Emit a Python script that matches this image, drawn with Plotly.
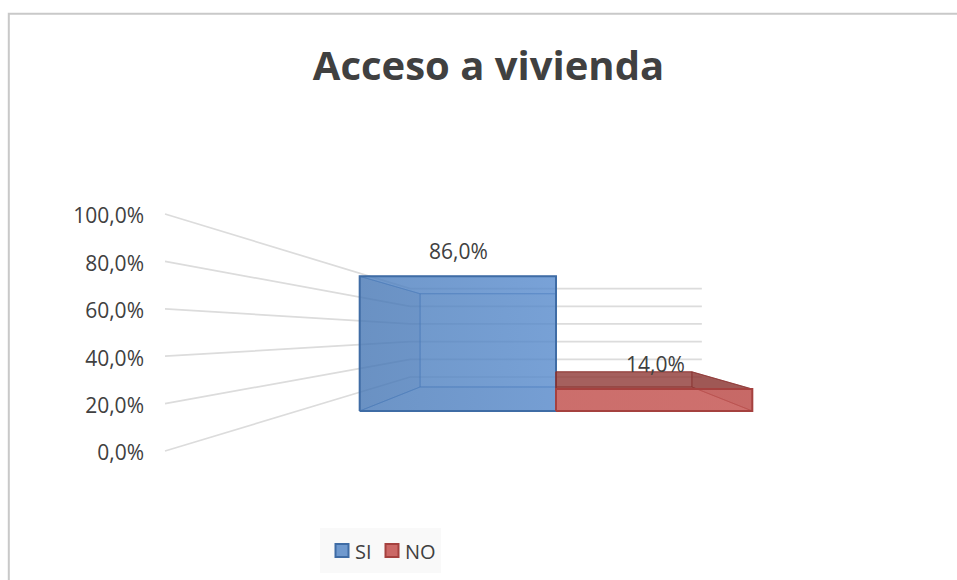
import plotly.graph_objects as go

categories = ["SI", "NO"]
values = [0.86, 0.14]
tick_values = [0, 0.2, 0.4, 0.6, 0.8, 1.0]

FONT = "Open Sans"
TEXT = "#404040"
GRID = "#DCDCDC"

# perspective set-up: everything shrinks towards one vanishing point
VP_X = 556
VP_V = 0.498          # height of the vanishing point, in value units
WALL_X = 391          # half width of the walls at the front
BAR_W = 297           # width of one bar, before scaling
S_BAR_FRONT = 0.661
S_BAR_BACK = 0.4576
S_WALL_BACK = 0.373

# page pixels to axis units, for the legend row
PX_PER_UNIT = 237
BASE_PX = 451


def project(wx, v, s):
    return wx * s, VP_V + (v - VP_V) * s


def face(fig, corners, fill, line, width=1):
    pts = [project(*c) for c in corners + corners[:1]]
    fig.add_trace(go.Scatter(x=[p[0] for p in pts], y=[p[1] for p in pts], mode="lines",
                             fill="toself", fillcolor=fill, line=dict(color=line, width=width),
                             showlegend=False, hoverinfo="skip"))


fig = go.Figure()

# gridlines on the left wall and the back wall
for v in tick_values:
    pts = [project(-WALL_X, v, 1), project(-WALL_X, v, S_WALL_BACK), project(WALL_X, v, S_WALL_BACK)]
    fig.add_trace(go.Scatter(x=[p[0] for p in pts], y=[p[1] for p in pts], mode="lines",
                             line=dict(color=GRID, width=1.7), showlegend=False, hoverinfo="skip"))

styles = [
    dict(back="rgba(79,129,189,0.5)", side="rgba(60,105,165,0.5)", floor="rgba(70,118,180,0.5)",
         top="rgba(85,135,200,0.5)", front0="rgba(72,122,185,0.6)", front1="rgba(88,140,208,0.6)",
         edge="#3F6CA5", inner="rgba(70,115,175,0.5)", key="#6F99CE", legend_x=342),
    dict(back="rgba(170,70,68,0.4)", side="rgba(150,60,58,0.5)", floor="rgba(190,80,77,0.4)",
         top="rgba(135,50,48,0.65)", front0="rgba(195,85,82,0.75)", front1="rgba(198,88,85,0.75)",
         edge="#A5413F", inner="rgba(140,50,48,0.6)", key="#CB6866", legend_x=392),
]

for i, (name, val, st) in enumerate(zip(categories, values, styles)):
    x0 = -BAR_W + i * BAR_W
    x1 = x0 + BAR_W
    sf, sb = S_BAR_FRONT, S_BAR_BACK
    face(fig, [(x0, 0, sb), (x1, 0, sb), (x1, val, sb), (x0, val, sb)], st["back"], st["inner"])
    face(fig, [(x0, 0, sf), (x1, 0, sf), (x1, 0, sb), (x0, 0, sb)], st["floor"], st["inner"])
    face(fig, [(x0, 0, sf), (x0, 0, sb), (x0, val, sb), (x0, val, sf)], st["side"], st["inner"])
    face(fig, [(x1, 0, sf), (x1, 0, sb), (x1, val, sb), (x1, val, sf)], st["side"], st["inner"])
    face(fig, [(x0, val, sf), (x1, val, sf), (x1, val, sb), (x0, val, sb)], st["top"], st["inner"])
    pts = [project(*c) for c in [(x0, 0, sf), (x1, 0, sf), (x1, val, sf), (x0, val, sf), (x0, 0, sf)]]
    fig.add_trace(go.Scatter(x=[p[0] for p in pts], y=[p[1] for p in pts], mode="lines", fill="toself",
                             fillgradient=dict(type="horizontal", colorscale=[[0, st["front0"]], [1, st["front1"]]]),
                             line=dict(color=st["edge"], width=2), showlegend=False, hoverinfo="skip"))
    # legend key and its name, the native legend keeps too wide a gap
    key_y = (BASE_PX - 550.5) / PX_PER_UNIT
    fig.add_trace(go.Scatter(x=[st["legend_x"] - VP_X], y=[key_y], mode="markers", showlegend=False, hoverinfo="skip",
                             marker=dict(symbol="square", size=13, color=st["key"],
                                         line=dict(color=st["edge"], width=2))))
    fig.add_annotation(x=st["legend_x"] - VP_X, y=key_y, text=name, showarrow=False, xanchor="left", xshift=11,
                       yshift=-1, font=dict(family=FONT, size=20, color=TEXT))
    lx, ly = project((x0 + x1) / 2, val, sf)
    fig.add_annotation(x=lx, y=ly, text=f"{val * 100:.1f}%".replace(".", ","), showarrow=False,
                       yanchor="bottom", yshift=9, xshift=1, font=dict(family=FONT, size=21, color=TEXT))

fig.update_layout(
    width=957, height=580, margin=dict(l=0, r=0, t=0, b=0), autosize=False, showlegend=False,
    paper_bgcolor="white", plot_bgcolor="white", separators=",.",
    title=dict(text="<b>Acceso a vivienda</b>", x=488.5 / 957, xanchor="center", y=1 - 66 / 580, yanchor="middle",
               font=dict(family=FONT, size=40, color=TEXT)),
    xaxis=dict(range=[-VP_X, 957 - VP_X], visible=False, fixedrange=True),
    yaxis=dict(range=[-0.5443, 1.903], anchor="free", position=144 / 957, tickvals=tick_values, tickformat=".1%",
               showgrid=False, zeroline=False, showline=False, ticks="", fixedrange=True, ticklabelshift=2,
               tickfont=dict(family=FONT, size=21, color=TEXT)),
    shapes=[dict(type="path", xref="paper", yref="paper", layer="below",
                 path=f"M {8.8 / 957} 0 L {8.8 / 957} {1 - 13.8 / 580} L 1 {1 - 13.8 / 580}",
                 line=dict(color="#C9C9C9", width=2)),
            dict(type="rect", xref="paper", yref="paper", layer="below",
                 x0=320 / 957, x1=441 / 957, y0=1 - 573 / 580, y1=1 - 528 / 580,
                 fillcolor="#F9F9F9", line=dict(width=0))],
)

fig.write_html("out.html", config=dict(displayModeBar=False),
               post_script="document.body.style.margin='0';document.body.style.overflow='hidden';")
